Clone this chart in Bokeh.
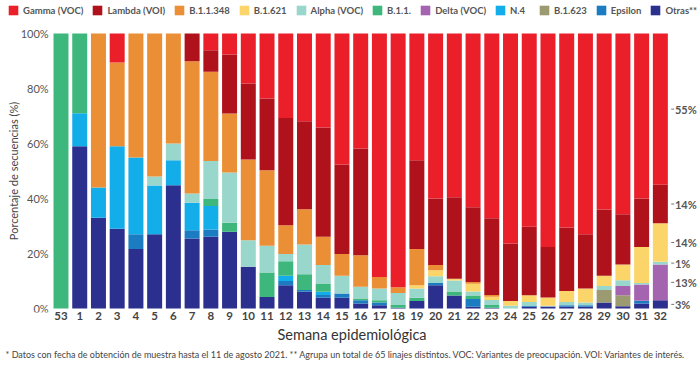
import numpy as np
from bokeh.plotting import figure
from bokeh.models import (ColumnDataSource, FixedTicker, Legend, LegendItem, Title)
from bokeh.embed import file_html
from bokeh.resources import INLINE
from bokeh.core.properties import value

weeks = ["53", "1", "2", "3", "4", "5", "6", "7", "8", "9", "10", "11", "12",
         "13", "14", "15", "16", "17", "18", "19", "20", "21", "22", "23", "24",
         "25", "26", "27", "28", "29", "30", "31", "32"]
y_ticks = [0, 20, 40, 60, 80, 100]

# stacked from bottom to top
otras = [0, 59, 33, 29, 21.6, 27, 44.8, 25.5, 26.1, 27.9, 15.2, 4.2, 8.5, 6.1, 3.9, 3.9,
         1.8, 1.2, 0.3, 2.7, 8.5, 4.7, 0.6, 0.3, 0, 0.6, 0.7, 0.6, 0.6, 2.2, 0.8, 1.8, 3]
epsilon = [0, 0, 0, 0, 5.4, 0, 0, 3, 2.6, 0, 0, 0, 1.5, 0.6, 1, 1.6, 1.2, 1, 0, 0, 0.8,
           0, 2.9, 0, 0, 0.3, 0, 0.6, 0.6, 0, 0, 1, 0]
b1623 = [0, 0, 0, 0, 0, 0, 0, 0, 0, 0, 0, 0, 0, 0, 0, 0, 0, 0, 0, 0, 0, 0, 0, 0, 0, 0,
         0, 0, 0, 4.5, 4, 0, 0]
n4 = [0, 12, 11, 30, 27.9, 17.7, 9.1, 10, 8.6, 0, 0, 0, 1.9, 0, 1.2, 0, 0, 0, 0, 0, 0,
      0, 0, 0, 0, 0, 0, 0, 0, 0, 0, 0, 0]
delta = [0, 0, 0, 0, 0, 0, 0, 0, 0, 0, 0, 0, 0, 0, 0, 0, 0, 0, 0, 0, 0, 0, 0, 0, 0, 0,
         0, 0, 0, 0, 3.4, 5.9, 13]
b11 = [100, 29, 0, 0, 0, 0, 0, 0, 2.5, 3.3, 0, 8.9, 5.3, 5.8, 3, 0, 0.6, 0.8, 1, 1.2, 0,
       1.5, 1.2, 1, 0, 0, 0, 0, 0, 0, 0, 0, 0]
alpha = [0, 0, 0, 0, 0, 3.3, 6.1, 3.3, 13.8, 18.3, 9.6, 9.7, 2.6, 10.8, 6.7, 6.4, 4.3,
         4.3, 4.3, 3.4, 2.4, 4, 1.5, 1.8, 1, 1.5, 0.3, 1.2, 1, 1.5, 2.1, 0.6, 1]
b1621 = [0, 0, 0, 0, 0, 0, 0, 0, 0, 0, 0, 0, 0, 0, 0, 0, 0, 0, 0, 1.2, 2.2, 0.6, 2.8,
         1.2, 1.7, 2.4, 3, 4, 5.1, 3.7, 5.7, 13.1, 14]
b11348 = [0, 0, 56, 30.5, 45.1, 52, 40, 48.1, 32.5, 21.4, 29.4, 27.5, 10.5, 12.8, 10.3,
          7.9, 11.5, 4.2, 2.1, 13.1, 1.9, 0, 0.6, 0.6, 0, 0, 0, 0, 0, 0, 0, 0, 0]
lambda_ = [0, 0, 0, 0, 0, 0, 0, 10.1, 7.8, 21.5, 27.6, 26.1, 39, 32, 39.7, 32.6, 38.8,
           0, 0, 32.3, 24.2, 29.7, 27.2, 27.9, 20.9, 24.9, 18.4, 23.1, 19.7, 24.1, 18.3,
           17.6, 14]
gamma = [0, 0, 0, 10.5, 0, 0, 0, 0, 6.1, 7.6, 18.2, 23.6, 30.7, 31.9, 34.2, 47.6, 41.8,
         88.5, 92.3, 46.1, 60, 59.5, 63.2, 67.2, 76.4, 70.3, 77.6, 70.5, 73, 64, 65.7,
         60, 55]

series_labels = ["Otras**", "Epsilon", "B.1.623", "N.4", "Delta (VOC)", "B.1.1.",
                 "Alpha (VOC)", "B.1.621", "B.1.1.348", "Lambda (VOI)", "Gamma (VOC)"]
series_values = [otras, epsilon, b1623, n4, delta, b11, alpha, b1621, b11348, lambda_, gamma]
colors = ["#2b2f8e", "#1b7cc2", "#9b9a70", "#13aeea", "#a564b0", "#3db77c",
          "#99d6cc", "#fcd56a", "#ea8f36", "#b0121c", "#ea1f2a"]
legend_order = ["Gamma (VOC)", "Lambda (VOI)", "B.1.1.348", "B.1.621", "Alpha (VOC)",
                "B.1.1.", "Delta (VOC)", "N.4", "B.1.623", "Epsilon", "Otras**"]

FONT = "Lato"
W, H = 700, 369
FL, FR = 3, 1                  # left/right borders (px)
PITCH = 18.73                  # px per week
FIRST_CX = 60.5                # px of first bar centre
TOP100 = 33                    # px of 100 %
ZERO = 308                     # px of 0 %
BELOW0 = 4                     # frame extends a little under 0 %
FB = H - (ZERO + BELOW0)
frame_w = W - FL - FR
x0 = -(FIRST_CX - FL) / PITCH
y_per_px = 100.0 / (ZERO - TOP100)

xs = list(range(len(weeks)))
keys = ["s%d" % i for i in range(len(series_labels))]
data = {"x": xs}
for k, v in zip(keys, series_values):
    data[k] = v
src = ColumnDataSource(data)

p = figure(width=W, height=H, x_range=(x0, x0 + frame_w / PITCH),
           y_range=(-BELOW0 * y_per_px, 100 + TOP100 * y_per_px),
           output_backend="svg", toolbar_location=None, y_axis_location=None,
           min_border_left=FL, min_border_right=FR, min_border_top=0,
           min_border_bottom=FB)
p.outline_line_color = None
p.xgrid.visible = False
p.ygrid.visible = False

renderers = p.vbar_stack(keys, x="x", width=0.8, fill_color=colors, line_color=None,
                         source=src)

name_to_r = dict(zip(series_labels, renderers))
legend = Legend(items=[LegendItem(label=n, renderers=[name_to_r[n]]) for n in legend_order],
                orientation="horizontal", location="top_left",
                glyph_width=12, glyph_height=12, label_standoff=4, spacing=8,
                padding=0, margin=4, border_line_color=None, background_fill_alpha=0,
                label_text_font=FONT, label_text_font_size="9.5px",
                label_text_font_style="bold", label_text_color="#555555",
                label_height=12)
p.add_layout(legend, "center")

# x axis
p.xaxis.ticker = FixedTicker(ticks=xs)
p.xaxis.major_label_overrides = {i: w for i, w in enumerate(weeks)}
p.xaxis.axis_line_color = None
p.xaxis.major_tick_line_color = None
p.xaxis.minor_tick_line_color = None
p.xaxis.major_tick_out = 0
p.xaxis.major_tick_in = 0
p.xaxis.minor_tick_out = 0
p.xaxis.major_label_standoff = -1
p.xaxis.major_label_text_font = FONT
p.xaxis.major_label_text_font_size = "11.5px"
p.xaxis.major_label_text_font_style = "bold"
p.xaxis.major_label_text_color = "#444444"

# y tick labels and title (drawn at the left edge of the first bar slot)
left_edge = xs[0] - 0.5
p.text(x=[left_edge] * len(y_ticks), y=y_ticks, text=["%d%%" % t for t in y_ticks],
       x_offset=-3, text_font=value(FONT), text_font_size="11px",
       text_color="#555555", text_align="right", text_baseline="middle")
p.text(x=[left_edge], y=[50], text=["Porcentaje de secuencias (%)"], angle=np.pi / 2,
       x_offset=-38, text_font=value(FONT), text_font_size="11px",
       text_color="#444444", text_align="center", text_baseline="middle")

# labels for last week
last = len(weeks) - 1
vals_last = np.array([s[last] for s in series_values], dtype=float)
mids = np.cumsum(vals_last) - vals_last / 2
lab_y = [float(m) for m, v in zip(mids, vals_last) if v > 0]
lab_t = ["%g%%" % v for v in vals_last if v > 0]
p.segment(x0=[last + 0.58] * len(lab_y), x1=[last + 0.74] * len(lab_y),
          y0=lab_y, y1=lab_y, line_color="#777777", line_width=1)
p.text(x=[last + 0.78] * len(lab_y), y=lab_y, text=lab_t,
       text_font=value(FONT), text_font_size="11px", text_font_style="bold",
       text_color="#555555", text_baseline="middle", text_align="left")

p.add_layout(Title(text="Semana epidemiológica", align="left", offset=274,
                   text_font=FONT, text_font_size="14.5px", text_font_style="normal",
                   text_color="#333333", standoff=2), "below")
p.add_layout(Title(text="* Datos con fecha de obtención de muestra hasta el 11 de agosto 2021. "
                        "** Agrupa un total de 65 linajes distintos. VOC: Variantes de "
                        "preocupación. VOI: Variantes de interés.",
                   align="left", offset=2, text_font=FONT, text_font_size="9px",
                   text_font_style="normal", text_color="#444444", standoff=6), "below")

open("out.html", "w").write(file_html(p, INLINE))
